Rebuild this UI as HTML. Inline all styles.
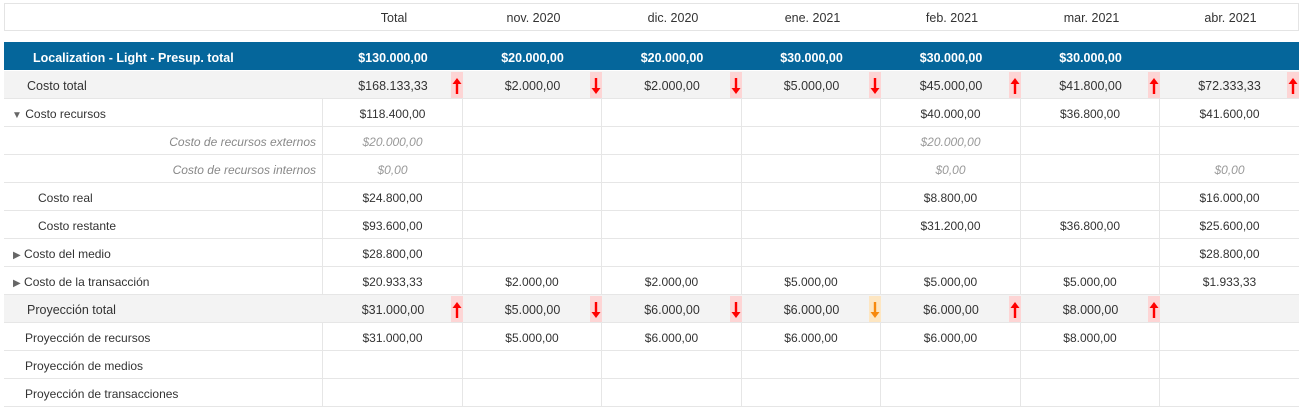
<!DOCTYPE html>
<html><head><meta charset="utf-8"><style>
*{box-sizing:border-box;margin:0;padding:0}
body{width:1304px;height:411px;background:#fff;font-family:"Liberation Sans",sans-serif;color:#333;position:relative;overflow:hidden}
.g{position:absolute;left:4px;display:grid;grid-template-columns:319px 140px 139px 140px 139px 140px 139px 139px;width:1295px}
.g>div{height:28px;line-height:31px;text-align:center;font-size:12px;position:relative;white-space:nowrap}
#hd{top:3px;border:1px solid #e4e4e4}
#hd>div{height:26px;line-height:29px;font-size:12.5px}
#bl{top:42px;background:#05669b;color:#fff;font-weight:bold}
#bl>div{font-size:12.5px;line-height:33px}
.r>div{border-bottom:1px solid #e6e6e6;border-right:1px solid #e6e6e6}
.r>div:last-child{border-right:none}
.gr>div{background:#f3f3f3;border-bottom:1px solid #e6e6e6;font-size:12.5px}
.l{text-align:left!important}
.it{text-align:right!important;font-style:italic;color:#888;padding-right:6px}
.i{font-style:italic;color:#999}
.a{position:absolute;right:0;top:1px;width:12px;height:26px;background:#fdd5d5}
.a svg{position:absolute;left:0;top:5px}
.o{background:#fde6c2}
</style></head><body>
<svg width="0" height="0" style="position:absolute"><defs>
<g id="up"><path d="M6 17V5" stroke="currentColor" stroke-width="2.4"/><path d="M1.5 7L6 1l4.5 6z" fill="currentColor"/></g>
<g id="dn"><path d="M6 1v12" stroke="currentColor" stroke-width="2.4"/><path d="M1.5 11L6 17l4.5-6z" fill="currentColor"/></g>
</defs></svg>
<div class="g" id="hd"><div></div><div>Total</div><div>nov. 2020</div><div>dic. 2020</div><div>ene. 2021</div><div>feb. 2021</div><div>mar. 2021</div><div>abr. 2021</div></div>
<div class="g" id="bl"><div class="l" style="padding-left:29px">Localization - Light - Presup. total</div><div>$130.000,00</div><div>$20.000,00</div><div>$20.000,00</div><div>$30.000,00</div><div>$30.000,00</div><div>$30.000,00</div><div></div></div>
<div class="g gr" style="top:71px"><div class="l" style="padding-left:23px">Costo total</div>
<div>$168.133,33<span class="a"><svg width="12" height="18" style="color:#f00"><use href="#up"/></svg></span></div>
<div>$2.000,00<span class="a"><svg width="12" height="18" style="color:#f00"><use href="#dn"/></svg></span></div>
<div>$2.000,00<span class="a"><svg width="12" height="18" style="color:#f00"><use href="#dn"/></svg></span></div>
<div>$5.000,00<span class="a"><svg width="12" height="18" style="color:#f00"><use href="#dn"/></svg></span></div>
<div>$45.000,00<span class="a"><svg width="12" height="18" style="color:#f00"><use href="#up"/></svg></span></div>
<div>$41.800,00<span class="a"><svg width="12" height="18" style="color:#f00"><use href="#up"/></svg></span></div>
<div>$72.333,33<span class="a"><svg width="12" height="18" style="color:#f00"><use href="#up"/></svg></span></div></div>
<div class="g r" style="top:99px"><div class="l" style="padding-left:8px"><span style="color:#666;font-size:10px">▼</span> Costo recursos</div><div>$118.400,00</div><div></div><div></div><div></div><div>$40.000,00</div><div>$36.800,00</div><div>$41.600,00</div></div>
<div class="g r" style="top:127px"><div class="it">Costo de recursos externos</div><div class="i">$20.000,00</div><div></div><div></div><div></div><div class="i">$20.000,00</div><div></div><div></div></div>
<div class="g r" style="top:155px"><div class="it">Costo de recursos internos</div><div class="i">$0,00</div><div></div><div></div><div></div><div class="i">$0,00</div><div></div><div class="i">$0,00</div></div>
<div class="g r" style="top:183px"><div class="l" style="padding-left:34px">Costo real</div><div>$24.800,00</div><div></div><div></div><div></div><div>$8.800,00</div><div></div><div>$16.000,00</div></div>
<div class="g r" style="top:211px"><div class="l" style="padding-left:34px">Costo restante</div><div>$93.600,00</div><div></div><div></div><div></div><div>$31.200,00</div><div>$36.800,00</div><div>$25.600,00</div></div>
<div class="g r" style="top:239px"><div class="l" style="padding-left:9px"><span style="color:#666;font-size:10px">▶</span> Costo del medio</div><div>$28.800,00</div><div></div><div></div><div></div><div></div><div></div><div>$28.800,00</div></div>
<div class="g r" style="top:267px"><div class="l" style="padding-left:9px"><span style="color:#666;font-size:10px">▶</span> Costo de la transacción</div><div>$20.933,33</div><div>$2.000,00</div><div>$2.000,00</div><div>$5.000,00</div><div>$5.000,00</div><div>$5.000,00</div><div>$1.933,33</div></div>
<div class="g gr" style="top:295px"><div class="l" style="padding-left:23px">Proyección total</div>
<div>$31.000,00<span class="a"><svg width="12" height="18" style="color:#f00"><use href="#up"/></svg></span></div>
<div>$5.000,00<span class="a"><svg width="12" height="18" style="color:#f00"><use href="#dn"/></svg></span></div>
<div>$6.000,00<span class="a"><svg width="12" height="18" style="color:#f00"><use href="#dn"/></svg></span></div>
<div>$6.000,00<span class="a o"><svg width="12" height="18" style="color:#f7890c"><use href="#dn"/></svg></span></div>
<div>$6.000,00<span class="a"><svg width="12" height="18" style="color:#f00"><use href="#up"/></svg></span></div>
<div>$8.000,00<span class="a"><svg width="12" height="18" style="color:#f00"><use href="#up"/></svg></span></div><div></div></div>
<div class="g r" style="top:323px"><div class="l" style="padding-left:21px">Proyección de recursos</div><div>$31.000,00</div><div>$5.000,00</div><div>$6.000,00</div><div>$6.000,00</div><div>$6.000,00</div><div>$8.000,00</div><div></div></div>
<div class="g r" style="top:351px"><div class="l" style="padding-left:21px">Proyección de medios</div><div></div><div></div><div></div><div></div><div></div><div></div><div></div></div>
<div class="g r" style="top:379px"><div class="l" style="padding-left:21px">Proyección de transacciones</div><div></div><div></div><div></div><div></div><div></div><div></div><div></div></div>
</body></html>
